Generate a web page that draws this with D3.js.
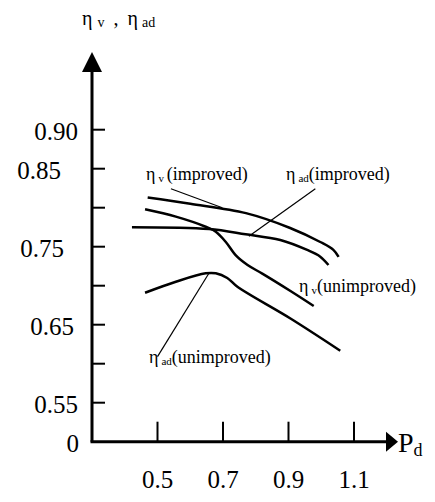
<!DOCTYPE html>
<html>
<head>
<meta charset="utf-8">
<script src="https://cdn.jsdelivr.net/npm/d3@7"></script>
<style>
body { margin: 0; background: #fff; }
</style>
</head>
<body>
<script>
var width = 435,
    height = 502;

// data
var yTicks = [0.90, 0.85, 0.80, 0.75, 0.70, 0.65, 0.60, 0.55, 0.50];
var yLabels = ["0.90", "0.85", "", "0.75", "", "0.65", "", "0.55", "0"];
var xTicks = [0.5, 0.7, 0.9, 1.1];
var xLabels = ["0.5", "0.7", "0.9", "1.1"];

var etaVImproved = [[0.47, 0.813], [0.60, 0.805], [0.77, 0.793], [0.905, 0.774], [0.997, 0.756], [1.037, 0.746], [1.053, 0.737]];
var etaAdImproved = [[0.422, 0.775], [0.657, 0.7727], [0.769, 0.766], [0.875, 0.7586], [0.957, 0.7458], [0.997, 0.7372], [1.022, 0.7265]];
var etaVUnimproved = [[0.462, 0.798], [0.556, 0.7885], [0.647, 0.7756], [0.678, 0.7692], [0.708, 0.7564], [0.74, 0.7385], [0.775, 0.7265], [0.82, 0.7155], [0.906, 0.6932], [0.977, 0.674]];
var etaAdUnimproved = [[0.462, 0.691], [0.556, 0.7051], [0.647, 0.7159], [0.678, 0.7159], [0.713, 0.7099], [0.744, 0.6987], [0.906, 0.658], [1.058, 0.6167]];

var serif = "'Liberation Serif', 'Times New Roman', Times, serif";

var x = d3.scaleLinear().domain([0.3, 1.1]).range([92, 354]);
var y = d3.scaleLinear().domain([0.5, 0.9]).range([441.7, 129.7]);

var svg = d3.select("body").append("svg")
    .attr("width", width)
    .attr("height", height)
    .attr("font-family", serif)
    .style("background", "#fff");

// axes
var x0 = x(0.3), y0 = y(0.5);
svg.append("line")
    .attr("x1", x0).attr("y1", y0).attr("x2", x0).attr("y2", 70)
    .attr("stroke", "#000").attr("stroke-width", 3);
svg.append("path")
    .attr("d", "M" + (x0 - 10) + ",72L" + x0 + ",52L" + (x0 + 10) + ",72Z")
    .attr("fill", "#000");
svg.append("line")
    .attr("x1", x0 - 1.5).attr("y1", y0).attr("x2", 388).attr("y2", y0)
    .attr("stroke", "#000").attr("stroke-width", 3);
svg.append("path")
    .attr("d", "M386," + (y0 - 10) + "L398," + y0 + "L386," + (y0 + 10) + "Z")
    .attr("fill", "#000");

// y ticks and labels
var yNudge = { "0.85": -17, "0.75": -14, "0.65": -4, "0": 1 };
svg.selectAll(".ytick")
    .data(yTicks.slice(0, -1))
    .enter().append("line")
    .attr("x1", x0).attr("x2", x0 + 13)
    .attr("y1", function(d) { return y(d); })
    .attr("y2", function(d) { return y(d); })
    .attr("stroke", "#000").attr("stroke-width", 2);
svg.selectAll(".ylab")
    .data(yTicks)
    .enter().append("text")
    .attr("x", function(d, i) { return 78 + (yNudge[yLabels[i]] || 0); })
    .attr("y", function(d) { return y(d) + 10; })
    .attr("text-anchor", "end")
    .attr("font-size", 25)
    .text(function(d, i) { return yLabels[i]; });

// x ticks and labels
svg.selectAll(".xtick")
    .data(xTicks)
    .enter().append("line")
    .attr("x1", function(d) { return x(d); })
    .attr("x2", function(d) { return x(d); })
    .attr("y1", y0).attr("y2", y0 - 20)
    .attr("stroke", "#000").attr("stroke-width", 2);
svg.selectAll(".xlab")
    .data(xTicks)
    .enter().append("text")
    .attr("x", function(d) { return x(d); })
    .attr("y", 488)
    .attr("text-anchor", "middle")
    .attr("font-size", 25)
    .text(function(d, i) { return xLabels[i]; });

// axis titles
var t = svg.append("text").attr("x", 398).attr("y", 452).attr("font-size", 28);
t.append("tspan").text("P");
t.append("tspan").attr("dy", 4).attr("font-size", 18).text("d");

var yt = svg.append("text").attr("x", 82).attr("y", 25).attr("font-size", 20);
yt.append("tspan").text("η");
yt.append("tspan").attr("dx", 5).attr("dy", 2).attr("font-size", 14).text("v");
yt.append("tspan").attr("dx", 9).attr("dy", -2).text(",");
yt.append("tspan").attr("dx", 9).text("η");
yt.append("tspan").attr("dx", 4).attr("dy", 2).attr("font-size", 14).text("ad");

// curves
var line = d3.line()
    .x(function(d) { return x(d[0]); })
    .y(function(d) { return y(d[1]); })
    .curve(d3.curveCatmullRom.alpha(0.5));

[etaVImproved, etaAdImproved, etaVUnimproved, etaAdUnimproved].forEach(function(s) {
    svg.append("path")
        .attr("d", line(s))
        .attr("fill", "none")
        .attr("stroke", "#000")
        .attr("stroke-width", 2.5);
});

// leader lines
var leaders = [
    [[0.541, 0.8243], [0.698, 0.8000]],
    [[0.982, 0.8243], [0.779, 0.7635]],
    [[0.657, 0.7159], [0.500, 0.6090]]
];
leaders.forEach(function(l) {
    svg.append("line")
        .attr("x1", x(l[0][0])).attr("y1", y(l[0][1]))
        .attr("x2", x(l[1][0])).attr("y2", y(l[1][1]))
        .attr("stroke", "#000").attr("stroke-width", 1.2);
});

// curve labels
function label(px, py, sub, rest) {
    var g = svg.append("text").attr("x", px).attr("y", py).attr("font-size", 18);
    g.append("tspan").text("η");
    g.append("tspan").attr("dx", 3).attr("dy", 2).attr("font-size", 11).text(sub);
    g.append("tspan").attr("dy", -2).text(rest);
}
label(146, 180, "v ", "(improved)");
label(286, 180, "ad", "(improved)");
label(299, 292, "v", "(unimproved)");
label(149, 363, "ad", "(unimproved)");
</script>
</body>
</html>
